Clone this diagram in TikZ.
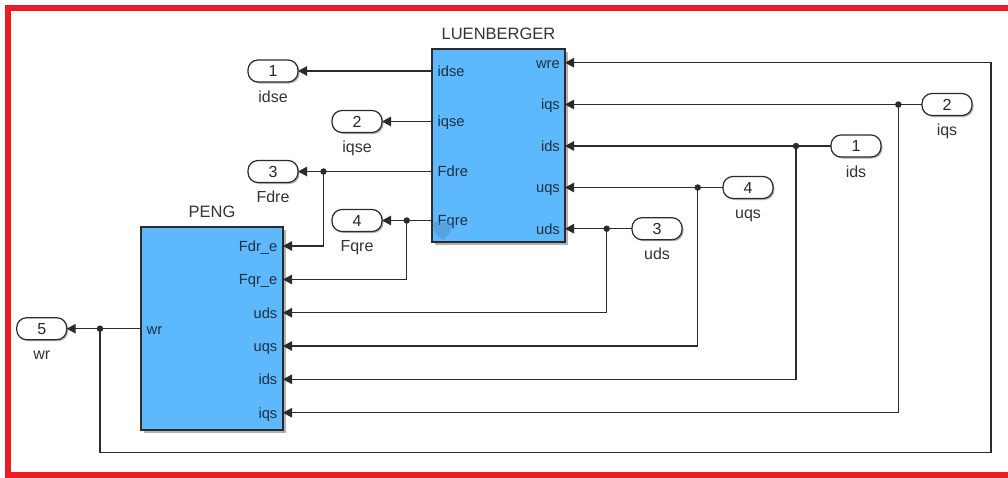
\documentclass[tikz,border=0pt]{standalone}
\usepackage{fontspec}
\setmainfont{Liberation Sans}
\usetikzlibrary{arrows.meta,calc,positioning,shadows}
\definecolor{frame}{HTML}{EC1C24}
\definecolor{blockfill}{HTML}{5DB9FC}
\definecolor{wirec}{HTML}{2B2B2B}
\definecolor{portc}{HTML}{1C2F44}
\definecolor{badge}{HTML}{4F8FC4}

\tikzset{
  blockbox/.style={draw=wirec,line width=1.4pt,fill=blockfill,outer sep=0pt,inner sep=0pt,anchor=north west,
    drop shadow={shadow xshift=2.5pt,shadow yshift=-2.5pt,opacity=0.3,fill=black}},
  blocktitle/.style={inner sep=0pt,font=\fontsize{16.5}{18}\selectfont,text=black!80},
  tag/.style={draw=wirec,line width=1.2pt,fill=white,rounded corners=10pt,minimum width=50pt,minimum height=22pt,
    inner sep=0pt,outer sep=0pt,font=\fontsize{16}{18}\selectfont,text=black!85,
    drop shadow={shadow xshift=1.5pt,shadow yshift=-1.5pt,opacity=0.3,fill=black}},
  tagname/.style={inner sep=0pt,text height=11.5pt,text depth=3.5pt,font=\fontsize{16}{18}\selectfont,text=black!80},
  portname/.style={inner sep=0pt,font=\fontsize{14.7}{16}\selectfont,text=portc},
  sig/.style={draw=wirec,line width=1.2pt},
  dot/.style={circle,fill=wirec,inner sep=0pt,minimum size=6.5pt}
}

\begin{document}
\begin{tikzpicture}[x=1pt,y=-1pt,>={Triangle[length=9pt,width=9.5pt]}]
\useasboundingbox (0,0) rectangle (1008,477);
\clip (0,0) rectangle (1008,477);
% outer frame
\draw[frame,line width=6pt] (1015,8) -- (7.5,8) -- (7.5,474.5) -- (1015,474.5);

% blocks
\node[blockbox,minimum width=133pt,minimum height=193pt] (luen) at (432,49) {};
\node[blockbox,minimum width=142pt,minimum height=203pt] (peng) at (141,227) {};
\node[blocktitle,above=9pt of luen] {LUENBERGER};
\node[blocktitle,above=9pt of peng] {PENG};

% ports
\foreach \n/\y in {idse/71,iqse/121.5,Fdre/171.5,Fqre/220.5}{
  \coordinate (L\n) at (432,\y);
  \node[portname,anchor=base west] at (437.5,\y+5.3) {\n};
}
\foreach \n/\y in {wre/62.7,iqs/104.5,ids/146,uqs/187.5,uds/228.7}{
  \coordinate (L\n) at (565,\y);
  \node[portname,anchor=base east] at (560,\y+5.3) {\n};
}
\coordinate (Pwr) at (141,328.7);
\node[portname,anchor=base west] at (146.5,334) {wr};
\foreach \n/\t/\y in {Fdr/Fdr\_e/246,Fqr/Fqr\_e/279.5,uds/uds/312.7,uqs/uqs/346,ids/ids/379.3,iqs/iqs/412.7}{
  \coordinate (P\n) at (283,\y);
  \node[portname,anchor=base east] at (277.5,\y+5.3) {\t};
}
% link badge
\fill[badge,opacity=0.5,rounded corners=2pt] (433.5,222) -- (451.5,222) -- (451.5,231) -- (442.5,240.5) -- (433.5,231) -- cycle;

% tags
\node[tag] (out1) at (273,71) {1};
\node[tag] (out2) at (357,121.5) {2};
\node[tag] (out3) at (273,171.5) {3};
\node[tag] (out4) at (357,220.5) {4};
\node[tag] (out5) at (41.7,328.7) {5};
\node[tag] (in1) at (856,146) {1};
\node[tag] (in2) at (947,104.5) {2};
\node[tag] (in3) at (657,228.7) {3};
\node[tag] (in4) at (748,187.5) {4};
\node[tagname,below=8.5pt of out1] {idse};
\node[tagname,below=8.5pt of out2] {iqse};
\node[tagname,below=8.5pt of out3] {Fdre};
\node[tagname,below=8.5pt of out4] {Fqre};
\node[tagname,below=8.5pt of out5] {wr};
\node[tagname,below=8.5pt of in1] {ids};
\node[tagname,below=8.5pt of in2] {iqs};
\node[tagname,below=8.5pt of in3] {uds};
\node[tagname,below=8.5pt of in4] {uqs};

% branch points
\coordinate (bFd) at (LFdre -| 323.5,0);
\coordinate (bFq) at (LFqre -| 406.7,0);
\coordinate (buds) at (Luds -| 606.7,0);
\coordinate (buqs) at (Luqs -| 697.7,0);
\coordinate (bids) at (Lids -| 796,0);
\coordinate (biqs) at (Liqs -| 898.3,0);
\coordinate (bwr) at (Pwr -| 100,0);
\coordinate (wrc) at (991,452.3);

% wires
\draw[sig,->] (Lidse) -- (out1.east);
\draw[sig,->] (Liqse) -- (out2.east);
\draw[sig,->] (LFdre) -- (out3.east);
\draw[sig,->] (LFqre) -- (out4.east);
\draw[sig,->] (bFd) |- (PFdr);
\draw[sig,->] (bFq) |- (PFqr);
\draw[sig,->] (in3.west) -- (Luds);
\draw[sig,->] (in4.west) -- (Luqs);
\draw[sig,->] (in1.west) -- (Lids);
\draw[sig,->] (in2.west) -- (Liqs);
\draw[sig,->] (buds) |- (Puds);
\draw[sig,->] (buqs) |- (Puqs);
\draw[sig,->] (bids) |- (Pids);
\draw[sig,->] (biqs) |- (Piqs);
\draw[sig,->] (Pwr) -- (out5.east);
\draw[sig,->] (bwr) |- (wrc) |- (Lwre);
\foreach \b in {bFd,bFq,buds,buqs,bids,biqs,bwr}
  \node[dot] at (\b) {};
\end{tikzpicture}
\end{document}
